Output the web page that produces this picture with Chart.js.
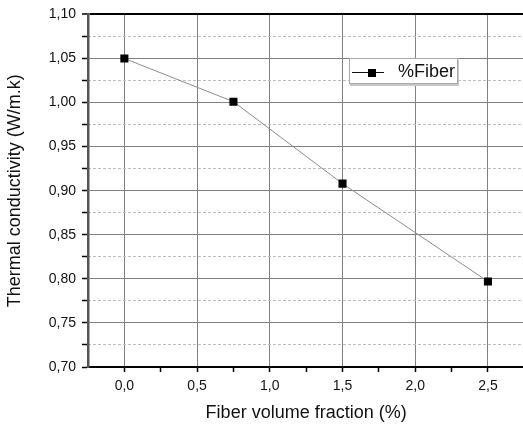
<!DOCTYPE html>
<html>
<head>
<meta charset="utf-8">
<script src="https://cdn.jsdelivr.net/npm/chart.js@4/dist/chart.umd.min.js"></script>
<style>
  html, body { margin: 0; padding: 0; background: #fff; overflow: hidden; }
  #wrap { position: absolute; left: 0; top: 0; width: 530px; height: 427px; }
  #legend {
    position: absolute; left: 349px; top: 58px; width: 107px; height: 24px;
    border: 1px solid #a8a8a8; background: #fff; box-shadow: 1px 2px 0 #c8c8c8;
    font-family: "Liberation Sans", Arial, sans-serif; font-size: 18px; color: #111;
  }
  #legend .ln { position: absolute; left: 2px; top: 13px; width: 32px; height: 1px; background: #111; }
  #legend .sq { position: absolute; left: 18px; top: 10px; width: 8px; height: 8px; background: #000; }
  #legend .tx { position: absolute; left: 48px; top: 2px; line-height: 21px; }
</style>
</head>
<body>
<div id="wrap"><canvas id="chart"></canvas></div>
<div id="legend"><span class="ln"></span><span class="sq"></span><span class="tx">%Fiber</span></div>
<script>
// data
const fractions = [0, 0.75, 1.5, 2.5];
const conductivity = [1.05, 1.001, 0.908, 0.797];

// tick positions (majors get labels, minors only a tick mark / dashed grid)
const xTickValues = [0, 0.25, 0.5, 0.75, 1, 1.25, 1.5, 1.75, 2, 2.25, 2.5];
const yMajorTicks = [0.70, 0.75, 0.80, 0.85, 0.90, 0.95, 1.00, 1.05, 1.10];
const yMinorTicks = [0.725, 0.775, 0.825, 0.875, 0.925, 0.975, 1.025, 1.075];

const font = "'Liberation Sans', Arial, sans-serif";
const isMajorX = v => Math.round(v * 100) % 50 === 0;
const isMajorY = v => Math.round(v * 1000) % 50 === 0;

const allYTicks = [...yMajorTicks, ...yMinorTicks].sort((a, b) => a - b);

new Chart(document.getElementById("chart"), {
    type: "line",
    data: {
        datasets: [{
            label: "%Fiber",
            data: fractions.map((f, i) => ({ x: f, y: conductivity[i] })),
            borderColor: "#8c8c8c",
            borderWidth: 1,
            tension: 0,
            pointStyle: "rect",
            pointRadius: 5.7,
            pointBackgroundColor: "#000",
            pointBorderColor: "#000",
            pointBorderWidth: 0
        }]
    },
    options: {
        responsive: true,
        maintainAspectRatio: false,
        animation: false,
        layout: { padding: { top: 14, right: 3, left: 0, bottom: 0 } },
        plugins: { legend: { display: false }, tooltip: { enabled: false } },
        scales: {
            x: {
                type: "linear",
                min: -0.25,
                max: 2.75,
                afterBuildTicks: s => { s.ticks = xTickValues.map(v => ({ value: v })); },
                afterFit: s => { s.height = 60; },
                border: { color: "#000", width: 2 },
                grid: {
                    color: ctx => isMajorX(ctx.tick.value) ? "#808080" : "rgba(0,0,0,0)",
                    lineWidth: 1,
                    tickLength: 5,
                    tickWidth: 1.5,
                    tickColor: "#000"
                },
                ticks: {
                    autoSkip: false,
                    maxRotation: 0,
                    padding: 6,
                    color: "#111",
                    font: { family: font, size: 14 },
                    callback: v => isMajorX(v) ? v.toFixed(1).replace(".", ",") : ""
                },
                title: {
                    display: true,
                    text: "Fiber volume fraction (%)",
                    color: "#111",
                    font: { family: font, size: 18 },
                    padding: { top: 0, bottom: 3.5 }
                }
            },
            y: {
                min: 0.70,
                max: 1.10,
                afterBuildTicks: s => { s.ticks = allYTicks.map(v => ({ value: v })); },
                afterFit: s => { s.width = 88; },
                border: { color: "#555", width: 2.5 },
                grid: {
                    color: ctx => {
                        const v = ctx.tick.value;
                        if (Math.abs(v - 1.10) < 1e-6) return "#000";
                        return isMajorY(v) ? "#808080" : "rgba(0,0,0,0)";
                    },
                    lineWidth: ctx => Math.abs(ctx.tick.value - 1.10) < 1e-6 ? 2 : 1,
                    tickLength: 6,
                    tickWidth: 1.5,
                    tickColor: "#000"
                },
                ticks: {
                    autoSkip: false,
                    padding: 6,
                    color: "#111",
                    font: { family: font, size: 14 },
                    callback: v => isMajorY(v) ? v.toFixed(2).replace(".", ",") : ""
                },
                title: {
                    display: true,
                    text: "Thermal conductivity (W/m.k)",
                    color: "#111",
                    font: { family: font, size: 18 },
                    padding: { top: 4.5, bottom: 0 }
                }
            },
            yMinor: {
                position: "left",
                min: 0.70,
                max: 1.10,
                afterBuildTicks: s => { s.ticks = yMinorTicks.map(v => ({ value: v })); },
                afterFit: s => { s.width = 0; },
                border: { display: false, dash: [3, 2] },
                grid: { color: "#bdbdbd", lineWidth: 1, drawTicks: false },
                ticks: { display: false }
            }
        }
    }
});
</script>
</body>
</html>
